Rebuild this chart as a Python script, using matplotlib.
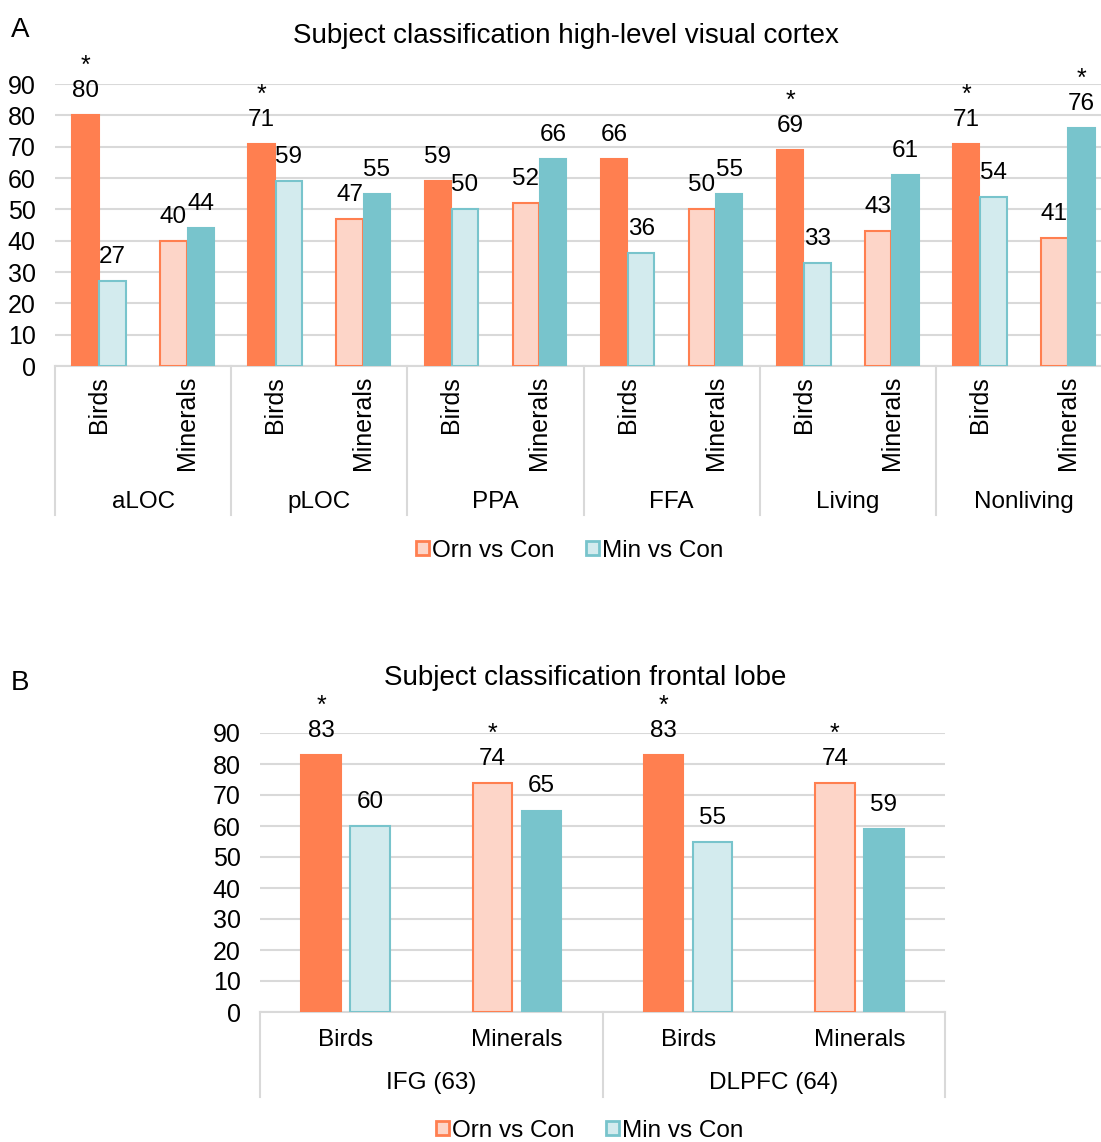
import numpy as np
import matplotlib.pyplot as plt
from matplotlib.patches import Patch
import matplotlib.transforms as mtransforms

plt.rcParams['font.family'] = ['Liberation Sans', 'DejaVu Sans']

# panel A data
regions_a = ["aLOC", "pLOC", "PPA", "FFA", "Living", "Nonliving"]
cats = ["Birds", "Minerals"]
orn_a = [80, 40, 71, 47, 59, 52, 66, 50, 69, 43, 71, 41]
min_a = [27, 44, 59, 55, 50, 66, 36, 55, 33, 61, 54, 76]
star_orn_a = [1, 0, 1, 0, 0, 0, 0, 0, 1, 0, 1, 0]
star_min_a = [0, 0, 0, 0, 0, 0, 0, 0, 0, 0, 0, 1]

# panel B data
regions_b = ["IFG (63)", "DLPFC (64)"]
orn_b = [83, 74, 83, 74]
min_b = [60, 65, 55, 59]
star_orn_b = [1, 1, 1, 1]
star_min_b = [0, 0, 0, 0]

coral = "#FF7F50"
peach = "#FDD5C8"
teal = "#78C4CC"
lcyan = "#D3EBEE"
grid_c = "#D9D9D9"
FS = 17.5


def bar_style(series, cat):
    # birds: orn solid / min light ; minerals: orn light / min solid
    if series == "orn":
        return (coral, coral) if cat == 0 else (peach, coral)
    return (lcyan, teal) if cat == 0 else (teal, teal)


def draw_panel(ax, orn, mins, s_orn, s_min, regions, width, off, rotate, sep_depth,
               cat_y, grp_y):
    n = len(orn)
    x = np.arange(n)
    for i in x:
        c = i % 2
        for vals, stars, dx, name in [(orn, s_orn, -off, "orn"), (mins, s_min, off, "min")]:
            fc, ec = bar_style(name, c)
            ax.bar(i + dx, vals[i], width, color=fc, edgecolor=ec, linewidth=1.5, zorder=3)
            ax.annotate(str(vals[i]), (i + dx, vals[i]), xytext=(0, 24),
                        textcoords="offset pixels", ha="center", va="center", fontsize=FS)
            if stars[i]:
                ax.annotate("*", (i + dx, vals[i]), xytext=(0, 49),
                            textcoords="offset pixels", ha="center", va="center", fontsize=18)
    ax.set_ylim(0, 90)
    ax.set_xlim(-0.5, n - 0.5)
    ax.set_yticks(range(0, 91, 10))
    ax.tick_params(axis="y", length=0, labelsize=18, pad=14)
    ax.set_xticks([])
    ax.grid(axis="y", color=grid_c, linewidth=1.5, zorder=0)
    ax.set_axisbelow(True)
    for s in ["left", "right", "top"]:
        ax.spines[s].set_visible(False)
    ax.spines["bottom"].set_color(grid_c)
    ax.spines["bottom"].set_linewidth(1.5)

    trans = mtransforms.blended_transform_factory(ax.transData, ax.transAxes)
    # category labels
    for i in x:
        if rotate:
            ax.text(i, cat_y, cats[i % 2], rotation=90, ha="center", va="top",
                    fontsize=18, transform=trans)
        else:
            ax.text(i, cat_y, cats[i % 2], ha="center", va="center",
                    fontsize=FS, transform=trans)
    # region labels and separators
    for g in range(len(regions)):
        ax.text(2 * g + 0.5, grp_y, regions[g], ha="center", va="center",
                fontsize=FS, transform=trans)
    for g in range(len(regions) + 1):
        ax.plot([2 * g - 0.5, 2 * g - 0.5], [0, sep_depth], color=grid_c, lw=1.5,
                transform=trans, clip_on=False)


fig = plt.figure(figsize=(11.01, 11.42), dpi=100)

axA = fig.add_axes([55 / 1101, (1142 - 366) / 1142, 1057 / 1101, 282 / 1142])
draw_panel(axA, orn_a, min_a, star_orn_a, star_min_a, regions_a, 0.3, 0.155, True,
           -0.528, -0.035, -0.483)
fig.text(566 / 1101, 1 - 36 / 1142, "Subject classification high-level visual cortex",
         ha="center", va="center", fontsize=20)
fig.text(20 / 1101, 1 - 30 / 1142, "A", ha="center", va="center", fontsize=20)

axB = fig.add_axes([260 / 1101, (1142 - 1012) / 1142, 685 / 1101, 279 / 1142])
draw_panel(axB, orn_b, min_b, star_orn_b, star_min_b, regions_b, 0.23, 0.143, False,
           -0.305, -0.1, -0.255)
fig.text(585 / 1101, 1 - 678 / 1142, "Subject classification frontal lobe",
         ha="center", va="center", fontsize=20)
fig.text(20 / 1101, 1 - 683 / 1142, "B", ha="center", va="center", fontsize=20)

handles = [Patch(facecolor=peach, edgecolor=coral, linewidth=2, label="Orn vs Con"),
           Patch(facecolor=lcyan, edgecolor=teal, linewidth=2, label="Min vs Con")]
for cx, cy in [(570, 551), (590, 1131)]:
    fig.legend(handles=handles, loc="center", bbox_to_anchor=(cx / 1101, 1 - cy / 1142),
               ncol=2, frameon=False, fontsize=FS, handlelength=0.5, handleheight=0.5,
               handletextpad=0.15, columnspacing=1.3)

plt.savefig("out.png", dpi=100)
